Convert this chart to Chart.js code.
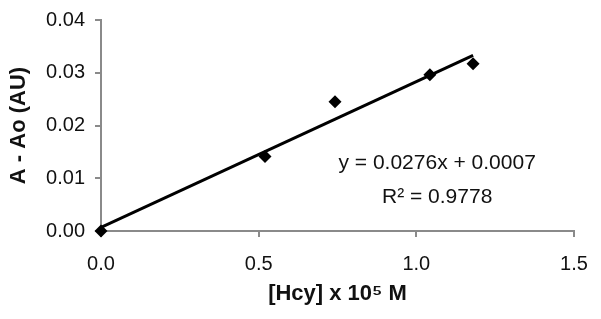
<!DOCTYPE html>
<html>
<head>
<meta charset="utf-8">
<script src="https://cdn.jsdelivr.net/npm/chart.js@4"></script>
<style>
  html, body { margin: 0; padding: 0; background: #fff; }
  #wrap { width: 601px; height: 319px; }
</style>
</head>
<body>
<div id="wrap"><canvas id="chart" width="601" height="319"></canvas></div>
<script>
// measured points
const hcyValues = [0, 0.52, 0.742, 1.043, 1.18];
const absValues = [0, 0.0141, 0.0245, 0.0296, 0.0317];

// linear trendline end points (y = 0.0276x + 0.0007)
const trendX = [0, 1.18];
const trendY = [0.0007, 0.0333];

const eqLines = ['y = 0.0276x + 0.0007', 'R\u00B2 = 0.9778'];

const axisGray = '#8a8a8a';
const fontFam = '"Liberation Sans", Arial, sans-serif';

const eqPlugin = {
    id: 'eqText',
    afterDatasetsDraw(chart) {
        const ctx = chart.ctx;
        const xs = chart.scales.x, ys = chart.scales.y;
        ctx.save();
        ctx.fillStyle = '#111';
        ctx.font = '21px ' + fontFam;
        ctx.textAlign = 'center';
        ctx.textBaseline = 'middle';
        ctx.fillText(eqLines[0], xs.getPixelForValue(1.066), ys.getPixelForValue(0.0129));
        ctx.fillText(eqLines[1], xs.getPixelForValue(1.066), ys.getPixelForValue(0.0065));
        ctx.restore();
    }
};

const ctx = document.getElementById('chart').getContext('2d');
var chart = new Chart(ctx, {
    type: 'scatter',
    data: {
        datasets: [{
            label: 'trend',
            type: 'line',
            data: trendX.map((x, i) => ({x: x, y: trendY[i]})),
            borderColor: '#000',
            borderWidth: 3,
            pointRadius: 0,
            fill: false,
            order: 2
        }, {
            label: 'data',
            data: hcyValues.map((x, i) => ({x: x, y: absValues[i]})),
            pointStyle: 'rectRot',
            pointRadius: 6.5,
            backgroundColor: '#000',
            borderColor: '#000',
            borderWidth: 0,
            clip: false,
            order: 1
        }]
    },
    options: {
        responsive: false,
        animation: false,
        layout: { padding: { top: 20, right: 27, left: 0, bottom: 0 } },
        plugins: {
            legend: { display: false },
            tooltip: { enabled: false }
        },
        scales: {
            x: {
                type: 'linear',
                min: 0,
                max: 1.5,
                ticks: {
                    stepSize: 0.5,
                    color: '#111',
                    padding: 15,
                    font: { family: fontFam, size: 20 },
                    callback: v => v.toFixed(1)
                },
                grid: { drawOnChartArea: false, drawTicks: true, tickLength: 6, color: axisGray, lineWidth: 2 },
                border: { color: axisGray, width: 2 },
                title: {
                    display: true,
                    text: '[Hcy] x 10\u2075 M',
                    color: '#111',
                    padding: { top: 0, bottom: 12 },
                    font: { family: fontFam, size: 22, weight: 'bold' }
                },
                afterFit: s => { s.height = 88; s.paddingRight = 0; s.paddingLeft = 0; }
            },
            y: {
                min: 0,
                max: 0.04,
                ticks: {
                    stepSize: 0.01,
                    color: '#111',
                    padding: 10,
                    font: { family: fontFam, size: 20 },
                    callback: v => v.toFixed(2)
                },
                grid: { drawOnChartArea: false, drawTicks: true, tickLength: 6, color: axisGray, lineWidth: 2 },
                border: { color: axisGray, width: 2 },
                title: {
                    display: true,
                    text: 'A - Ao (AU)',
                    color: '#111',
                    padding: { top: 6, bottom: 0 },
                    font: { family: fontFam, size: 22, weight: 'bold' }
                },
                afterFit: s => { s.width = 101; s.paddingTop = 0; s.paddingBottom = 0; }
            }
        }
    },
    plugins: [eqPlugin]
});
</script>
</body>
</html>
